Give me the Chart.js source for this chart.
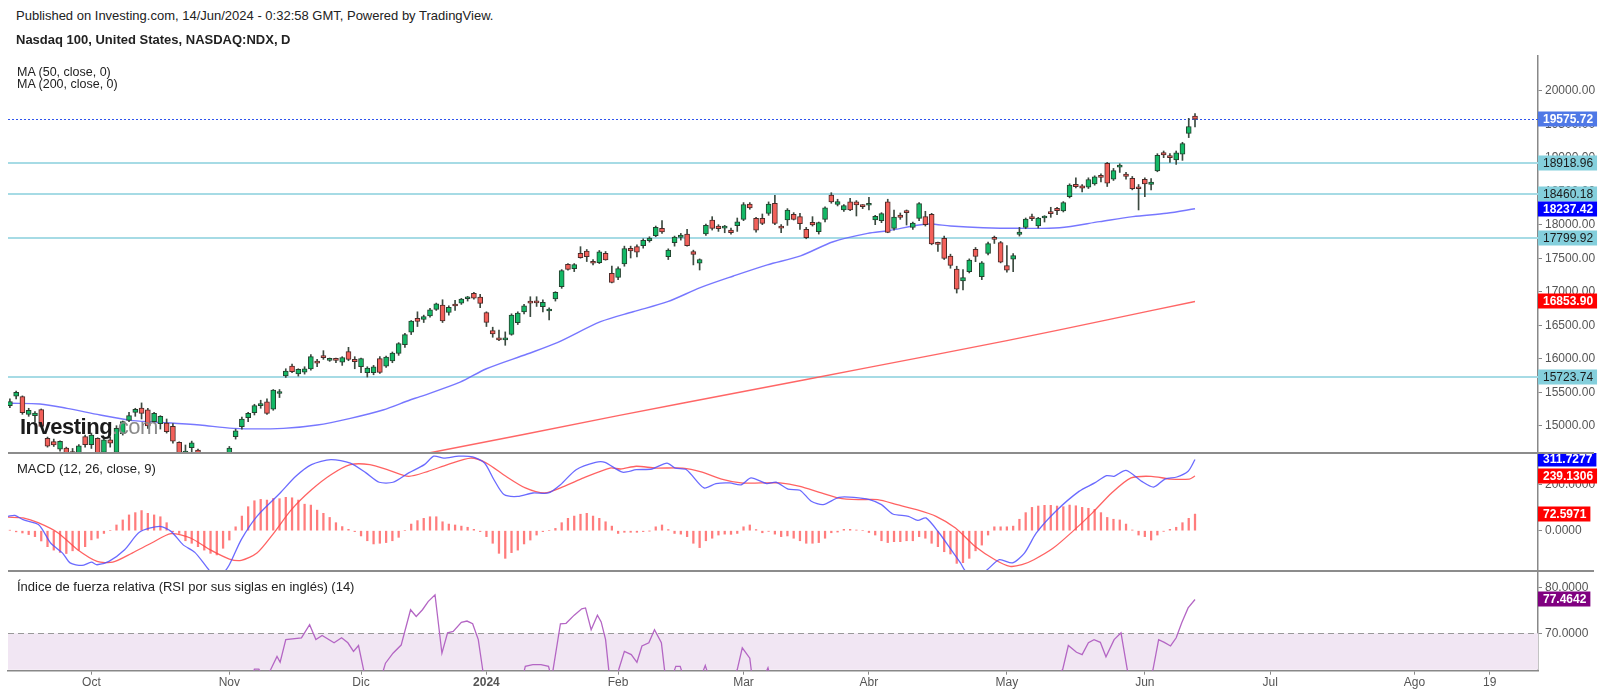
<!DOCTYPE html>
<html>
<head>
<meta charset="utf-8">
<title>Nasdaq 100 - NDX</title>
<script src="https://cdn.jsdelivr.net/npm/chart.js@4.4.1/dist/chart.umd.min.js"></script>
<style>
  html, body { margin: 0; padding: 0; background: #fff; }
  body { width: 1600px; height: 694px; position: relative; overflow: hidden;
         font-family: "Liberation Sans", Arial, sans-serif; color: #222; }
  .pane { position: absolute; left: 0; width: 1600px; }
  .txt { position: absolute; white-space: nowrap; font-size: 13px; line-height: 14px; z-index: 5; }
  .sep { position: absolute; left: 8px; width: 1586px; height: 2px; background: #8c8c8c; z-index: 4; }
</style>
</head>
<body>
<div class="txt" style="left:16px;top:9px">Published on Investing.com, 14/Jun/2024 - 0:32:58 GMT, Powered by TradingView.</div>
<div class="txt" style="left:16px;top:33px;font-weight:bold">Nasdaq 100, United States, NASDAQ:NDX, D</div>
<div class="txt" style="left:17px;top:66px;font-size:12.5px;line-height:12px">MA (50, close, 0)<br>MA (200, close, 0)</div>

<div class="pane" style="top:55px;height:398px"><canvas id="price"></canvas></div>
<div class="pane" style="top:453px;height:118px"><canvas id="macd"></canvas></div>
<div class="pane" style="top:571px;height:123px"><canvas id="rsi"></canvas></div>

<div class="sep" style="top:452px"></div>
<div class="sep" style="top:570px"></div>

<div class="txt" style="left:20px;top:415px;font-size:22px;line-height:24px;font-weight:bold;letter-spacing:-0.5px;color:#1b1b1b">Investing<span style="font-weight:normal;color:#8a8a8a">.com</span></div>
<div class="txt" style="left:17px;top:462px">MACD (12, 26, close, 9)</div>
<div class="txt" style="left:17px;top:580px">Índice de fuerza relativa (RSI por sus siglas en inglés) (14)</div>

<script>
// trading-day index: 0 = 13 Sep 2023 ... 189 = 13 Jun 2024
const openP = [
  15300,15440,15433,15170,15150,15239,14812,14763,14650,14666,
  14612,14560,14837,14715,14810,14600,14790,14600,14880,15080,
  15200,15264,15235,15060,15030,15040,14990,14750,14585,14672,
  14637,14280,14050,14200,14300,14420,14837,14985,15120,15194,
  15300,15358,15245,15480,15742,15891,15772,15800,15846,15955,
  16040,15975,15985,15950,16105,15990,15880,15790,15790,16000,
  15890,15965,16080,16210,16395,16603,16588,16637,16737,16800,
  16690,16816,16827,16895,16975,16920,16687,16420,16306,16280,
  16364,16537,16700,16860,16860,16775,16712,16891,17075,17409,
  17343,17573,17607,17442,17433,17573,17273,17213,17413,17647,
  17672,17686,17761,17836,17946,17522,17731,17811,17861,17597,
  17424,17861,18070,17980,17950,17920,17985,18080,18309,18094,
  18094,18170,18320,17970,18070,18155,18120,17930,18035,17895,
  18080,18442,18304,18219,18343,18343,18279,18290,18070,18060,
  18343,17946,18145,18200,17960,18094,18120,18155,17720,17796,
  17533,17339,17160,17299,17633,17224,17573,17811,17732,17388,
  17484,17856,17960,18110,17980,18100,18190,18245,18204,18418,
  18602,18581,18560,18607,18736,18915,18678,18860,18756,18692,
  18567,18678,18603,18801,19076,19022,18966,19051,19364,19622
];
const highP = [
  15400,15515,15445,15260,15210,15250,14830,14800,14775,14680,
  14660,14720,14860,14890,14820,14810,14830,15000,15070,15200,
  15260,15340,15260,15200,15150,15100,15030,14760,14712,14770,
  14650,14300,14200,14320,14420,14690,14950,15130,15200,15320,
  15380,15400,15540,15540,15850,15920,15850,15880,16060,15990,
  16120,16010,16010,16030,16170,16030,16010,15880,15900,16030,
  16040,16100,16240,16380,16570,16700,16650,16750,16830,16880,
  16790,16870,16900,16930,16990,16960,16700,16470,16428,16400,
  16670,16700,16810,16925,16925,16880,16760,17000,17330,17420,
  17420,17672,17630,17480,17615,17600,17383,17370,17680,17680,
  17700,17790,17820,17980,18060,17640,17830,17870,17930,17620,
  17490,18010,18120,18000,17990,17950,18100,18330,18330,18110,
  18160,18340,18440,18000,18240,18180,18170,17960,18120,18040,
  18265,18478,18380,18300,18395,18360,18300,18410,18140,18180,
  18380,18220,18175,18220,18040,18330,18200,18170,17740,17830,
  17560,17380,17330,17490,17660,17450,17740,17830,17750,17690,
  17570,17960,18100,18160,18110,18135,18260,18260,18345,18610,
  18700,18600,18700,18730,18760,18930,18840,18910,18780,18720,
  18600,18700,18690,19060,19100,19060,19100,19230,19588,19660
];
const lowP = [
  15270,15400,15170,15140,15060,14980,14680,14690,14620,14540,
  14480,14520,14680,14660,14540,14580,14680,14560,14860,15060,
  15140,15100,14960,15040,14950,14890,14740,14500,14450,14600,
  14260,13850,14000,14150,14230,14400,14800,14950,15060,15160,
  15260,15170,15230,15420,15720,15790,15740,15770,15830,15880,
  15990,15960,15940,15900,15970,15850,15790,15726,15760,15780,
  15870,15940,16050,16170,16360,16480,16540,16620,16720,16540,
  16650,16720,16810,16860,16890,16760,16480,16320,16270,16200,
  16350,16510,16670,16628,16780,16700,16577,16860,17050,17320,
  17300,17500,17450,17400,17420,17470,17130,17180,17380,17503,
  17520,17650,17740,17820,17870,17480,17680,17770,17680,17400,
  17324,17840,17920,17900,17880,17860,17900,18060,18230,17890,
  18000,18140,18000,17880,17990,18070,17930,17790,17980,17860,
  18040,18320,18280,18200,18210,18130,18240,18220,18000,18030,
  17880,17920,18080,17995,17930,18060,17980,17700,17600,17480,
  17350,16980,17025,17280,17448,17180,17550,17720,17430,17290,
  17299,17830,17940,18060,17950,18040,18110,18150,18190,18400,
  18550,18490,18540,18590,18640,18570,18660,18780,18680,18520,
  18220,18418,18520,18790,19000,18930,18900,18960,19300,19460
];
const closeP = [
  15360,15497,15194,15230,15190,14990,14694,14712,14765,14560,
  14550,14700,14715,14860,14565,14790,14740,14960,15060,15150,
  15245,15185,14996,15185,15140,14912,14770,14520,14610,14745,
  14280,13900,14180,14300,14410,14665,14925,15100,15185,15300,
  15330,15185,15530,15485,15817,15808,15841,15850,16030,15935,
  16015,15990,15975,16015,15990,15955,16000,15860,15880,15795,
  16025,16085,16225,16360,16560,16555,16630,16730,16820,16562,
  16767,16786,16890,16915,16905,16826,16543,16368,16282,16305,
  16650,16680,16790,16830,16832,16840,16737,16990,17314,17334,
  17405,17507,17522,17424,17596,17476,17137,17344,17642,17610,
  17590,17765,17800,17962,17891,17620,17815,17845,17686,17558,
  17480,17990,17946,17941,17965,17880,18043,18302,18250,17920,
  18020,18309,18020,17950,18220,18080,18015,17808,17995,18030,
  18250,18340,18345,18285,18219,18294,18269,18309,18125,18165,
  17885,18115,18110,18180,18025,18315,18000,17712,17706,17498,
  17394,17037,17210,17471,17526,17431,17718,17782,17441,17320,
  17540,17890,18082,18090,18100,18120,18165,18210,18330,18593,
  18568,18546,18674,18713,18705,18620,18808,18869,18720,18538,
  18536,18608,18637,19036,19040,19000,19074,19210,19465,19575.72
];

// moving averages: [day index, value]
const ma50 = [
  [0,15334],[4.8,15324],[9.1,15259],[14.4,15160],[19.6,15075],[25.1,15045],[30.3,15010],
  [35.6,14960],[43.6,14960],[49,15010],[54.3,15110],[59.5,15234],[63.8,15384],[65.4,15433],
  [71.8,15650],[76,15850],[82.5,16070],[87.3,16239],[94.2,16552],[99.4,16701],[104.9,16851],
  [110.1,17060],[115.4,17234],[120.8,17400],[126.1,17535],[131.3,17746],[136.8,17870],[140,17910],
  [146.3,18010],[150,17980],[155.2,17955],[160.6,17946],[167.4,17955],[173.8,18045],[179.1,18120],
  [184.5,18170],[189,18237.42]
];
const ma200 = [
  [58,14460],[66.8,14592],[97,15150],[117,15510],[137,15870],[159,16270],[175,16580],[189,16853.90]
];
const levels = [18918.96, 18460.18, 17799.92, 15723.74];
const lastClose = 19575.72;

const macdHist = [
  2,-5,-10,-17,-26,-45,-70,-85,-95,-100,
  -88,-85,-70,-40,-33,-12,0,25,47,69,
  79,88,76,69,61,35,-4,-12,-44,-55,
  -70,-85,-99,-106,-77,-41,17,64,105,131,
  137,134,141,140,146,144,134,116,112,90,
  76,58,35,18,6,-4,-23,-44,-58,-55,
  -52,-44,-29,0,29,44,54,61,61,39,
  29,25,20,15,6,-4,-26,-55,-99,-121,
  -96,-85,-58,-41,-19,-4,0,10,35,54,
  64,72,76,64,54,39,20,-12,-7,-7,
  -7,-4,-1,17,25,5,-12,-15,-26,-55,
  -74,-44,-33,-19,-15,-16,-12,17,25,5,
  -9,-3,-15,-26,-23,-33,-44,-55,-55,-52,
  -33,-9,-6,6,6,3,0,-8,-19,-44,
  -52,-48,-48,-44,-44,-26,-33,-55,-70,-92,
  -102,-143,-140,-121,-88,-63,-19,17,17,17,
  20,50,79,102,108,111,111,108,105,112,
  109,102,98,93,79,58,50,47,29,3,
  -19,-26,-41,-19,-3,6,15,35,54,72.5971
];
const macdLine = [
  [-0.3,63],[0.8,67],[2.1,48],[4.6,26],[6.5,-54],[8.4,-98],[9.6,-141],[11.5,-152],[13,-138],
  [13.9,-149],[15.8,-134],[18.3,-83],[20.7,-6],[23.9,19],[25.7,-3],[27.6,-61],[29.5,-95],
  [31.3,-156],[32.2,-185],[33.8,-190],[35,-149],[36.9,-39],[39.4,63],[43.1,165],[45.6,238],
  [48.1,289],[51.2,311],[54.3,296],[56.8,253],[58.9,212],[61.1,212],[63.6,253],[66.1,289],
  [67.6,326],[69.2,318],[71.6,326],[73.8,323],[75.7,296],[77.2,223],[78.8,158],[81,150],
  [83.4,165],[85.9,165],[87.8,201],[90.3,267],[93.4,299],[94.9,299],[97.7,256],[99.9,267],
  [102.4,270],[104.8,296],[106.1,274],[107.9,267],[110.7,187],[112.6,206],[114.8,209],
  [116.6,201],[118.2,231],[120.7,206],[122.2,212],[124.1,182],[126,177],[127.8,129],
  [129.7,114],[132.2,146],[134.6,146],[137.1,136],[139,114],[140.8,73],[143.3,63],[144.8,45],
  [146.1,56],[148.2,-10],[150.1,-83],[151.6,-141],[152.5,-180],[154.4,-200],[155.9,-170],
  [157.8,-127],[159.9,-141],[161.8,-98],[163.7,-10],[166.8,85],[170.5,172],[173,209],
  [174.9,241],[176.1,238],[178,264],[180.5,216],[182.4,191],[184.2,226],[186.1,235],
  [187.9,260],[189,311.7277]
];
const signalLine = [
  [-0.3,59],[2.1,56],[4.6,34],[7.7,-10],[10.8,-83],[13.9,-134],[16.4,-138],[19.5,-98],
  [22.6,-54],[25.7,-13],[28.8,-32],[31.9,-83],[35,-124],[36.9,-130],[39.4,-98],[41.9,-17],
  [44.9,92],[48.1,179],[51.2,245],[54.3,289],[57.4,289],[60.5,264],[63.6,238],[66.7,260],
  [69.8,289],[73.5,318],[76,296],[79.1,238],[82.2,187],[85.3,165],[88.4,194],[91.5,231],
  [95.7,274],[97.4,270],[99.9,282],[103,274],[107.3,274],[110.4,256],[113.5,226],[116.6,209],
  [119.7,209],[122.8,209],[126,194],[129.1,168],[132.2,143],[135.3,136],[138.4,136],
  [141.5,114],[144.6,92],[147.7,63],[150.8,12],[153.9,-68],[157.1,-127],[159.5,-156],
  [161.4,-149],[163.3,-127],[166.4,-76],[169.5,-3],[172.6,77],[175.7,165],[178.8,231],
  [182,238],[185.1,226],[188.1,226],[189,239.1306]
];
const rsiLine = [
  [0,48],[5,36],[10,30],[13,42],[17,52],[21,56],[24,50],[27,38],[31,30],[35,45],[38,58],
  [39,62.1],[39.7,62.1],[40.6,60],[41.6,62],[42.6,64.9],[43.1,63.6],[44,68.6],[46.5,69],
  [47.8,71.9],[48.8,68.6],[49.8,69.5],[51.7,67.9],[52.9,69],[53.9,67.9],[54.8,66],[55.6,67.3],
  [56.4,62],[57.5,55],[58.5,56],[59.6,62],[59.9,63.4],[61.1,65.6],[62.4,67.4],[63.9,75.2],
  [64.8,73.7],[65.8,75.2],[66.7,77],[67.8,78.5],[68.9,65.6],[69.8,70.1],[70.7,70.4],[72,72.4],
  [72.9,72.7],[73.8,72.1],[74.7,68.6],[75.4,62],[76,55],[78,47],[80,50],[82.2,62.7],
  [83.4,63.1],[84.7,63.1],[85.9,62.7],[86.4,60],[87.8,72.1],[88.7,72.2],[90,74],[91.2,75.4],
  [91.8,75.6],[92.7,70.8],[93.7,74],[94.3,72.5],[95,68.6],[95.5,62],[96,58],[97.1,62],[98,66],
  [99.1,65.3],[100,63.6],[100.8,67.2],[101.9,67.9],[102.8,70.8],[103.9,67.9],[104.4,62],
  [105,58],[106.2,62.7],[106.9,62.7],[107.5,60],[109,56],[110.9,62.9],[111.8,59],[114,56],
  [116,62],[116.8,66.8],[118,64.5],[118.4,60],[119.5,58],[120.9,62.4],[121.5,59],[125,52],
  [130,45],[135,50],[140,45],[145,47],[150,33],[155,45],[160,52],[165,58],[167.9,62],
  [168.8,67.3],[170.1,65.8],[171,65.3],[172,67.9],[172.9,68.6],[173.9,68],[174.8,64.8],
  [176.1,68.6],[177.2,70.1],[178.2,62],[179,57],[181,58],[182.3,62],[183.2,68.6],[184.1,68],
  [185.1,67.2],[186,69],[186.9,72.4],[187.9,75.6],[189,77.4642]
];

const priceTicks = [15000,15500,16000,16500,17000,17500,18000,18500,19000,19500,20000];
const macdTicks = [0, 200];
const rsiTicks = [70, 80];
const monthIdx = [13, 35, 56, 76, 97, 117, 137, 159, 181, 201, 224, 236];
const monthNames = ['Oct','Nov','Dic','2024','Feb','Mar','Abr','May','Jun','Jul','Ago','19'];

Chart.defaults.font.family = '"Liberation Sans", Arial, sans-serif';
Chart.defaults.animation = false;

const X_MIN = -0.3, X_MAX = 243.7;
const pairs = a => a.map(([x, y]) => ({ x, y }));

function xScale(show) {
  return {
    type: 'linear', min: X_MIN, max: X_MAX, display: show, offset: false,
    afterBuildTicks: s => { s.ticks = monthIdx.map(v => ({ value: v })); },
    ticks: {
      autoSkip: false, maxRotation: 0, color: '#555', padding: 1,
      font: c => ({ size: 12, weight: c.index === 3 ? 'bold' : 'normal' }),
      callback: v => monthNames[monthIdx.indexOf(v)]
    },
    grid: { drawOnChartArea: false, drawTicks: true, tickLength: 4, color: '#888', offset: false },
    border: { display: true, color: '#888', width: 1.5 },
    afterFit: s => {
      s.height = show ? 23.3 : 0;
      s.paddingLeft = 0; s.paddingRight = 0;
    }
  };
}

function yScale(min, max, ticks, digits) {
  return {
    position: 'right', min, max,
    afterBuildTicks: s => { s.ticks = ticks.map(v => ({ value: v })); },
    ticks: { color: '#555', font: { size: 12 }, padding: 3, callback: v => v.toFixed(digits) },
    grid: { drawOnChartArea: false, drawTicks: true, tickLength: 4, color: '#888' },
    border: { display: true, color: '#888', width: 1.5 },
    afterFit: s => {
      s.width = 62;
      s.paddingTop = 0; s.paddingBottom = 0;
    }
  };
}

// coloured value boxes on the right axis
function tagPlugin(tags, digits) {
  return {
    id: 'tags',
    afterDraw(chart) {
      const ctx = chart.ctx, y = chart.scales.y, left = chart.chartArea.right;
      ctx.save();
      ctx.textBaseline = 'middle';
      tags.forEach(t => {
        const py = Math.round(y.getPixelForValue(t.v));
        const txt = t.v.toFixed(digits);
        ctx.font = (t.fg === '#fff' ? 'bold ' : '') + '12px "Liberation Sans", Arial, sans-serif';
        const w = ctx.measureText(txt).width + 9;
        ctx.fillStyle = t.bg;
        ctx.fillRect(left, py - 7.5, w, 15);
        ctx.fillStyle = t.fg;
        ctx.fillText(txt, left + 5, py + 0.5);
      });
      ctx.restore();
    }
  };
}

const levelPlugin = {
  id: 'levels',
  beforeDatasetsDraw(chart) {
    const ctx = chart.ctx, y = chart.scales.y, a = chart.chartArea;
    ctx.save();
    ctx.strokeStyle = '#a6dbe5';
    ctx.lineWidth = 2;
    levels.forEach(v => {
      const py = Math.round(y.getPixelForValue(v));
      ctx.beginPath(); ctx.moveTo(a.left, py); ctx.lineTo(a.right, py); ctx.stroke();
    });
    ctx.strokeStyle = '#2f55ee';
    ctx.lineWidth = 1;
    ctx.setLineDash([2, 2]);
    const py = Math.round(y.getPixelForValue(lastClose)) + 0.5;
    ctx.beginPath(); ctx.moveTo(a.left, py); ctx.lineTo(a.right, py); ctx.stroke();
    ctx.restore();
  }
};

const rsiBandPlugin = {
  id: 'rsiBand',
  beforeDatasetsDraw(chart) {
    const ctx = chart.ctx, y = chart.scales.y, a = chart.chartArea;
    const top = y.getPixelForValue(70);
    ctx.save();
    ctx.fillStyle = '#f1e6f3';
    ctx.fillRect(a.left, top, a.right - a.left, a.bottom - top - 1);
    ctx.strokeStyle = '#999';
    ctx.lineWidth = 1.2;
    ctx.setLineDash([6, 4]);
    ctx.beginPath(); ctx.moveTo(a.left, Math.round(top) + 0.5); ctx.lineTo(a.right, Math.round(top) + 0.5); ctx.stroke();
    ctx.restore();
  }
};

const up = openP.map((o, i) => closeP[i] >= o);

new Chart(document.getElementById('price'), {
  type: 'bar',
  data: {
    datasets: [
      {
        type: 'bar', data: lowP.map((l, i) => ({ x: i, y: [l, highP[i]] })),
        backgroundColor: '#3c4a40', barThickness: 1, grouped: false, order: 2
      },
      {
        type: 'bar', data: openP.map((o, i) => ({ x: i, y: [o, closeP[i]] })),
        backgroundColor: up.map(u => u ? '#13b866' : '#f2605a'),
        borderColor: up.map(u => u ? '#24412e' : '#4d2a28'),
        borderWidth: 1, borderSkipped: false, barThickness: 5, minBarLength: 2,
        grouped: false, order: 1
      },
      {
        type: 'line', data: pairs(ma50), borderColor: 'rgba(95,95,255,0.85)', borderWidth: 1.4,
        pointRadius: 0, tension: 0.3, order: 3
      },
      {
        type: 'line', data: pairs(ma200), borderColor: 'rgba(255,85,85,0.9)', borderWidth: 1.4,
        pointRadius: 0, tension: 0.3, order: 3
      }
    ]
  },
  options: {
    responsive: true, maintainAspectRatio: false,
    layout: { padding: { left: 8, right: 0, top: 0, bottom: 0 } },
    plugins: { legend: { display: false }, tooltip: { enabled: false } },
    scales: { x: xScale(false), y: yScale(14592.5, 20532.8, priceTicks, 2) }
  },
  plugins: [levelPlugin, tagPlugin([
    { v: 19575.72, bg: '#4f78e6', fg: '#fff' },
    { v: 18918.96, bg: '#84cfdc', fg: '#1a1a1a' },
    { v: 18460.18, bg: '#84cfdc', fg: '#1a1a1a' },
    { v: 18237.42, bg: '#0000ff', fg: '#fff' },
    { v: 17799.92, bg: '#84cfdc', fg: '#1a1a1a' },
    { v: 16853.90, bg: '#ff0000', fg: '#fff' },
    { v: 15723.74, bg: '#84cfdc', fg: '#1a1a1a' }
  ], 2)]
});

new Chart(document.getElementById('macd'), {
  type: 'bar',
  data: {
    datasets: [
      {
        type: 'bar', data: macdHist.map((v, i) => ({ x: i, y: v })),
        backgroundColor: 'rgba(255,80,80,0.75)', barThickness: 1.6, grouped: false, order: 3
      },
      {
        type: 'line', data: pairs(signalLine), borderColor: 'rgba(255,70,70,0.85)', borderWidth: 1.3,
        pointRadius: 0, tension: 0.25, order: 2
      },
      {
        type: 'line', data: pairs(macdLine), borderColor: 'rgba(80,80,255,0.85)', borderWidth: 1.3,
        pointRadius: 0, tension: 0.25, order: 1
      }
    ]
  },
  options: {
    responsive: true, maintainAspectRatio: false,
    layout: { padding: { left: 8, right: 0, top: 0, bottom: 0 } },
    plugins: { legend: { display: false }, tooltip: { enabled: false } },
    scales: { x: xScale(false), y: yScale(-176.4, 340, macdTicks, 4) }
  },
  plugins: [tagPlugin([
    { v: 311.7277, bg: '#0000ff', fg: '#fff' },
    { v: 239.1306, bg: '#ff0000', fg: '#fff' },
    { v: 72.5971, bg: '#ff0000', fg: '#fff' }
  ], 4)]
});

new Chart(document.getElementById('rsi'), {
  type: 'line',
  data: {
    datasets: [{
      data: pairs(rsiLine), borderColor: '#b466c4', borderWidth: 1.3,
      pointRadius: 0, tension: 0
    }]
  },
  options: {
    responsive: true, maintainAspectRatio: false,
    layout: { padding: { left: 8, right: 0, top: 0, bottom: 0 } },
    plugins: { legend: { display: false }, tooltip: { enabled: false } },
    scales: { x: xScale(true), y: yScale(61.74, 83.75, rsiTicks, 4) }
  },
  plugins: [rsiBandPlugin, tagPlugin([{ v: 77.4642, bg: '#800080', fg: '#fff' }], 4)]
});
</script>
</body>
</html>
